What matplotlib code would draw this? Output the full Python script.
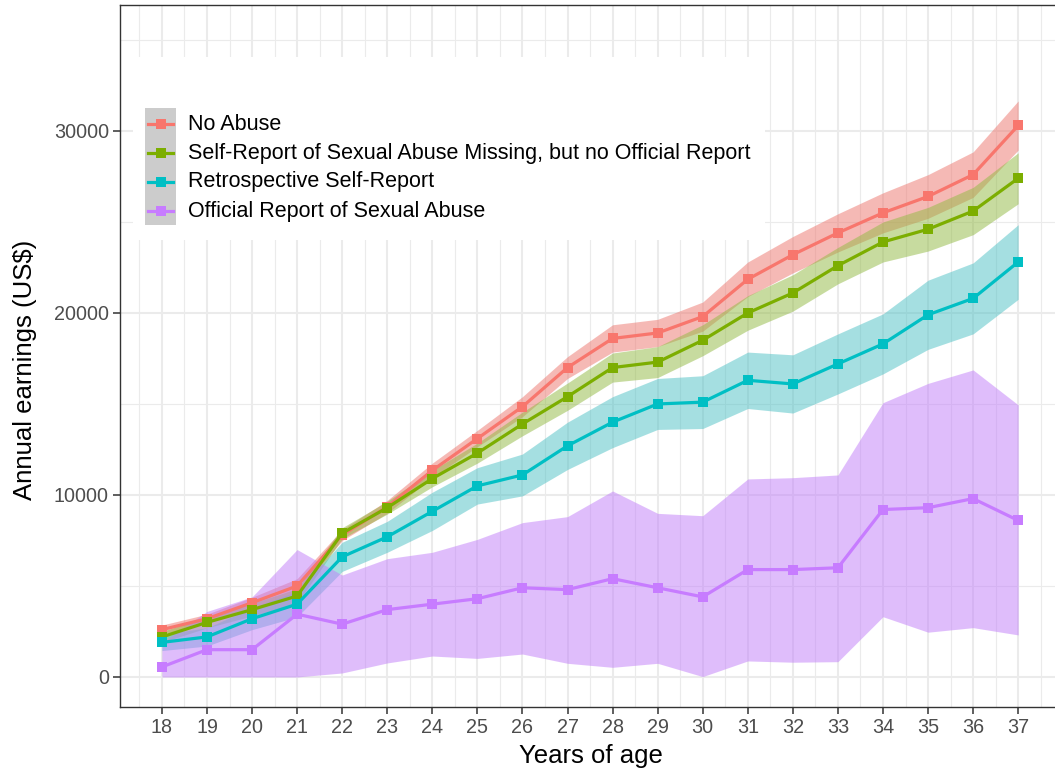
import matplotlib
matplotlib.use("Agg")
import matplotlib.pyplot as plt
from matplotlib.patches import Rectangle
from matplotlib.lines import Line2D
from matplotlib.ticker import MultipleLocator, FixedLocator

plt.rcParams['font.family'] = ['Liberation Sans', 'DejaVu Sans']

# ---------------- data ----------------
ages = list(range(18, 38))

series_names = [
    "No Abuse",
    "Self-Report of Sexual Abuse Missing, but no Official Report",
    "Retrospective Self-Report",
    "Official Report of Sexual Abuse",
]
series_colors = ["#F8766D", "#7CAE00", "#00BFC4", "#C77CFF"]
ribbon_colors = ["#ED756D", "#91B941", "#4DC1C5", "#C17DF9"]

no_abuse = [2600, 3200, 4080, 5000, 7800, 9350, 11350, 13100, 14850, 17000,
            18600, 18900, 19800, 21850, 23200, 24400, 25500, 26400, 27600, 30300]
no_abuse_lo = [2350, 2950, 3780, 4600, 7500, 9000, 10950, 12650, 14300, 16400,
               17850, 18150, 19000, 20900, 22200, 23350, 24400, 25200, 26350, 28950]
no_abuse_hi = [2850, 3450, 4380, 5400, 8100, 9700, 11750, 13550, 15400, 17600,
               19350, 19650, 20600, 22800, 24200, 25450, 26600, 27600, 28850, 31650]

self_missing = [2200, 3000, 3700, 4450, 7900, 9300, 10900, 12300, 13900, 15400,
                17000, 17300, 18500, 20000, 21100, 22600, 23900, 24600, 25600, 27400]
self_missing_lo = [1900, 2700, 3350, 4050, 7600, 8950, 10450, 11750, 13250, 14650,
                   16200, 16450, 17650, 19050, 20100, 21600, 22800, 23400, 24300, 26000]
self_missing_hi = [2500, 3300, 4050, 4850, 8200, 9650, 11350, 12850, 14550, 16150,
                   17800, 18150, 19350, 20950, 22100, 23600, 25000, 25800, 26900, 28800]

retro = [1900, 2200, 3200, 4000, 6600, 7700, 9100, 10500, 11100, 12700,
         14000, 15000, 15100, 16300, 16100, 17200, 18300, 19900, 20800, 22800]
retro_lo = [1450, 1700, 2600, 3300, 5800, 6850, 8050, 9500, 9950, 11400,
            12600, 13600, 13650, 14750, 14500, 15550, 16650, 18000, 18850, 20750]
retro_hi = [2350, 2700, 3800, 4700, 7400, 8550, 10150, 11500, 12250, 14000,
            15400, 16400, 16550, 17850, 17700, 18850, 19950, 21800, 22750, 24850]

official = [550, 1500, 1500, 3450, 2900, 3700, 4000, 4300, 4900, 4800,
            5400, 4900, 4400, 5900, 5900, 6000, 9200, 9300, 9800, 8600]
official_lo = [0, 0, 0, 0, 220, 770, 1150, 1020, 1260, 750,
               530, 750, 20, 880, 810, 840, 3310, 2460, 2710, 2310]
official_hi = [1900, 3600, 4400, 7000, 5600, 6500, 6850, 7560, 8480, 8810,
               10220, 8990, 8860, 10880, 10950, 11100, 15070, 16130, 16870, 14950]

y_ticks = [0, 10000, 20000, 30000]
y_tick_labels = ["0", "10000", "20000", "30000"]

means = [no_abuse, self_missing, retro, official]
lows = [no_abuse_lo, self_missing_lo, retro_lo, official_lo]
highs = [no_abuse_hi, self_missing_hi, retro_hi, official_hi]

# ---------------- figure ----------------
W, H = 1055, 775
fig = plt.figure(figsize=(W / 100, H / 100), dpi=100)
# panel spans px x 120..1061 (cropped at right), y 5..707
ax = fig.add_axes([120 / W, (H - 707) / H, 941 / W, 702 / H])

for lo, hi, col in zip(lows, highs, ribbon_colors):
    ax.fill_between(ages, lo, hi, color=col, alpha=0.5, linewidth=0, zorder=2)
for m, col in zip(means, series_colors):
    ax.plot(ages, m, color=col, lw=2.3, marker='s', markersize=7.5,
            markeredgewidth=0, zorder=3, solid_joinstyle='miter')

ax.set_xlim(17.07, 37.95)
ax.set_ylim(-1650, 36920)
ax.xaxis.set_major_locator(FixedLocator(ages))
ax.set_xticklabels([str(a) for a in ages])
ax.xaxis.set_minor_locator(MultipleLocator(0.5))
ax.set_yticks(y_ticks)
ax.set_yticklabels(y_tick_labels)
ax.yaxis.set_minor_locator(MultipleLocator(5000))

ax.grid(which='major', color='#EBEBEB', lw=1.5, zorder=0)
ax.grid(which='minor', color='#EBEBEB', lw=0.8, zorder=0)
ax.set_axisbelow(True)

ax.tick_params(which='major', direction='out', length=5, width=1.1,
               color='#333333', labelcolor='#4D4D4D', labelsize=14.2, pad=3)
ax.tick_params(which='minor', length=0)
for s in ax.spines.values():
    s.set_color('#333333')
    s.set_linewidth(1.0)

ax.set_xlabel("Years of age", fontsize=18.5, color='black')
ax.xaxis.set_label_coords(0.5, -0.052)
ax.set_ylabel(r"Annual earnings (US\$)", fontsize=18.5, color='black')
ax.yaxis.set_label_coords(-0.088, 0.48)

# ---------------- legend (ggplot-style, inside panel) ----------------
def fx(x):
    return x / W

def fy(y):
    return 1 - y / H

tf = fig.transFigure
fig.add_artist(Rectangle((fx(133), fy(240)), fx(765) - fx(133), fy(57) - fy(240),
                         transform=tf, facecolor='white', edgecolor='none', zorder=5))
fig.add_artist(Rectangle((fx(145), fy(225)), fx(176) - fx(145), fy(108) - fy(225),
                         transform=tf, facecolor='#CCCCCC', edgecolor='none', zorder=6))
row_y = [124, 153, 182, 211]
for name, col, ry in zip(series_names, series_colors, row_y):
    fig.add_artist(Line2D([fx(148), fx(173)], [fy(ry), fy(ry)], transform=tf,
                          color=col, lw=2.3, zorder=7))
    fig.add_artist(Line2D([fx(160.5)], [fy(ry)], transform=tf, color=col,
                          marker='s', markersize=7.5, markeredgewidth=0, zorder=8))
    fig.text(fx(188), fy(ry), name, fontsize=15.5, color='black',
             va='center', ha='left', zorder=8)

fig.savefig("out.png", dpi=100)
